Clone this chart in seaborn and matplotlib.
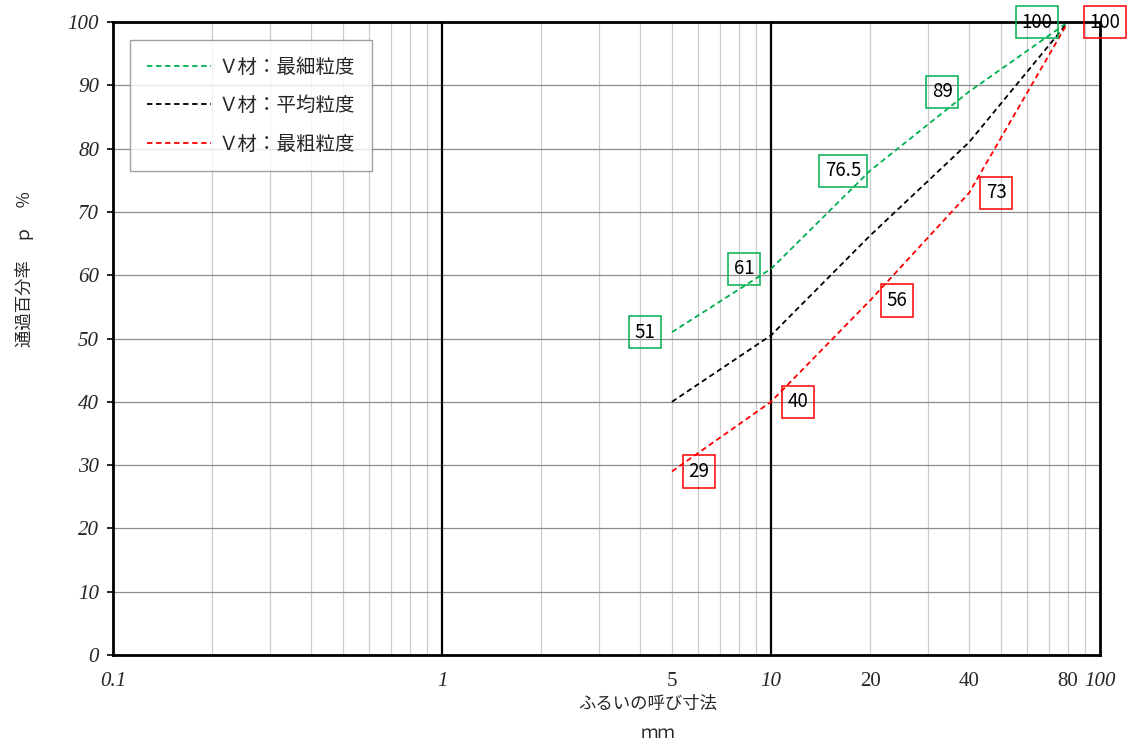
import numpy as np
import pandas as pd
import matplotlib
matplotlib.use("Agg")
import matplotlib.pyplot as plt
import seaborn as sns
from matplotlib.ticker import FixedLocator, NullFormatter

# ---- data ----
sieve_mm = [5, 10, 20, 40, 80]
fine = [51, 61, 76.5, 89, 100]
average = [40, 50.5, 66.25, 81, 100]
coarse = [29, 40, 56, 73, 100]
series_names = ["Ｖ材：最細粒度", "Ｖ材：平均粒度", "Ｖ材：最粗粒度"]
series_colors = ["#00B050", "#000000", "#FF0000"]
x_ticks = [0.1, 1, 5, 10, 20, 40, 80, 100]
x_tick_labels = ["0.1", "1", "5", "10", "20", "40", "80", "100"]
x_italic = [True, True, False, True, False, False, False, True]
y_ticks = list(range(0, 101, 10))

sns.set_style("white")
plt.rcParams["font.family"] = ["Noto Sans CJK JP", "DejaVu Sans"]

df = pd.DataFrame({
    "size": sieve_mm * 3,
    "pass": fine + average + coarse,
    "series": [series_names[0]] * 5 + [series_names[1]] * 5 + [series_names[2]] * 5,
})

fig = plt.figure(figsize=(11.42, 7.42), dpi=100)
ax = fig.add_axes([113 / 1142, 1 - 655 / 742, 987 / 1142, 633 / 742])

sns.lineplot(data=df, x="size", y="pass", hue="series", hue_order=series_names,
             palette=series_colors, style="series", dashes=[(3, 2)] * 3,
             linewidth=1.3, ax=ax, sort=False)

ax.set_xscale("log")
ax.set_xlim(0.1, 100)
ax.set_ylim(0, 100)

# grid
minor = [m * 10.0 ** e for e in (-1, 0, 1) for m in range(2, 10)]
for v in minor:
    ax.axvline(v, color="#cccccc", lw=0.9, zorder=0)
for v in (1, 10):
    ax.axvline(v, color="black", lw=1.6, zorder=1)
for v in y_ticks[1:-1]:
    ax.axhline(v, color="#8c8c8c", lw=0.9, zorder=0)

ax.xaxis.set_major_locator(FixedLocator(x_ticks))
ax.xaxis.set_minor_formatter(NullFormatter())
ax.set_xticks(x_ticks)
ax.set_xticklabels(x_tick_labels)
for lab, it in zip(ax.get_xticklabels(), x_italic):
    lab.set_family(["Liberation Serif", "DejaVu Serif"])
    lab.set_fontsize(15)
    lab.set_style("italic" if it else "normal")
ax.tick_params(axis="x", which="both", length=0, pad=12)

ax.set_yticks(y_ticks)
ax.set_yticklabels([str(v) for v in y_ticks])
for lab in ax.get_yticklabels():
    lab.set_family(["Liberation Serif", "DejaVu Serif"])
    lab.set_fontsize(15)
    lab.set_style("italic")
ax.tick_params(axis="y", which="major", length=4, width=1.2, direction="out",
               color="black", pad=6, left=True)

for s in ax.spines.values():
    s.set_color("black")
    s.set_linewidth(2)

ax.set_xlabel("ふるいの呼び寸法", fontsize=12.5)
ax.xaxis.set_label_coords((648 - 113) / 987, (655 - 704) / 633)
ax.xaxis.label.set_va("center")
fig.text(658 / 1142, 1 - 733 / 742, "ｍｍ", fontsize=12.5, ha="center", va="center")
ax.set_ylabel("通過百分率　ｐ　％", fontsize=12.5)
ax.yaxis.set_label_coords(-0.08, 0.61)

# data labels
def add_label(xv, yv, color, dx):
    ax.annotate(f"{yv:g}", (xv, yv), xytext=(dx, 0), textcoords="offset pixels",
                ha="center", va="center", fontsize=13.5, color="black",
                family=["Noto Sans CJK JP", "DejaVu Sans"],
                bbox=dict(boxstyle="square,pad=0.3", fc="none", ec=color, lw=1.1),
                zorder=5, annotation_clip=False)

for xv, yv in zip(sieve_mm[:4], fine[:4]):
    add_label(xv, yv, series_colors[0], -27)
add_label(sieve_mm[4], fine[4], series_colors[0], -31)
for xv, yv in zip(sieve_mm[:4], coarse[:4]):
    add_label(xv, yv, series_colors[2], 27)
add_label(sieve_mm[4], coarse[4], series_colors[2], 37)

leg = ax.legend(loc="upper left", bbox_to_anchor=(17 / 987, 1 - 18 / 633),
                borderaxespad=0, fancybox=False, frameon=True, fontsize=14,
                handlelength=3.3, labelspacing=0.9, borderpad=0.85, handletextpad=0.4,
                title=None)
leg.get_frame().set_edgecolor("#888888")
leg.get_frame().set_linewidth(1)
leg.set_zorder(6)

fig.savefig("out.png", dpi=100)
